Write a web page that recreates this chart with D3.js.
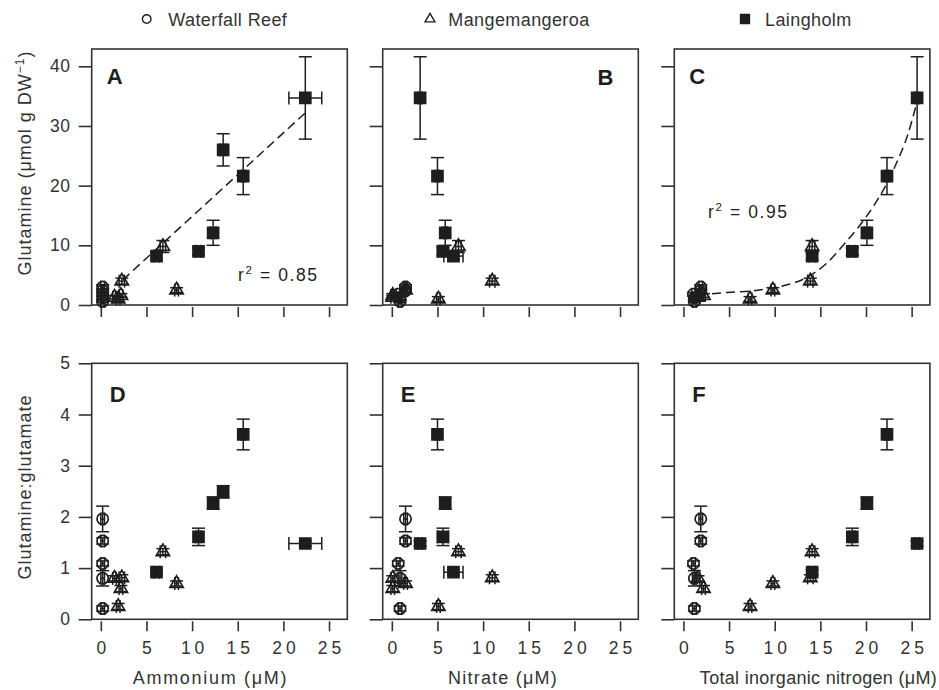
<!DOCTYPE html>
<html>
<head>
<meta charset="utf-8">
<script src="https://cdn.jsdelivr.net/npm/d3@7"></script>
<style>
  body { margin: 0; background: #fff; }
  svg { display: block; font-family: "Liberation Sans", Arial, Helvetica, sans-serif; }
</style>
</head>
<body>
<svg id="chart" width="939" height="690"></svg>
<script>
// ---- Sites ----
const siteNames = ["Waterfall Reef", "Mangemangeroa", "Laingholm"];
const siteShapes = ["circle", "triangle", "square"];

// ---- Waterfall Reef ----
const wfNH4      = [0.2, 0.2, 0.2, 0.2, 0.2];
const wfNH4Err   = [0.2, 0.2, 0.2, 0.2, 0.2];
const wfNO3      = [1.5, 1.5, 0.7, 0.9, 0.9];
const wfNO3Err   = [0.2, 0.2, 0.2, 0.2, 0.2];
const wfTIN      = [1.9, 1.9, 1.1, 1.2, 1.2];
const wfTINErr   = [0.2, 0.2, 0.2, 0.2, 0.2];
const wfGln      = [3.0, 2.4, 1.8, 1.2, 0.6];
const wfGlnErr   = [0.4, 0.3, 0.3, 0.3, 0.2];
const wfRatio    = [1.96, 1.53, 1.09, 0.80, 0.21];
const wfRatioErr = [0.25, 0.06, 0.05, 0.15, 0.05];

// ---- Mangemangeroa ----
const mgNH4      = [6.8, 8.3, 2.3, 1.9, 1.5, 2.2];
const mgNH4Err   = [0.3, 0.2, 0.3, 0.2, 0.2, 0.2];
const mgNO3      = [7.3, 1.5, 11.0, 5.1, 0.1, 0.1];
const mgNO3Err   = [0.3, 0.2, 0.3, 0.2, 0.2, 0.2];
const mgTIN      = [14.1, 9.8, 13.9, 7.3, 1.6, 2.2];
const mgTINErr   = [0.3, 0.2, 0.3, 0.2, 0.2, 0.2];
const mgGln      = [9.8, 2.5, 4.0, 1.0, 1.3, 1.6];
const mgGlnErr   = [1.0, 0.4, 0.5, 0.4, 0.3, 0.3];
const mgRatio    = [1.32, 0.70, 0.81, 0.25, 0.80, 0.60];
const mgRatioErr = [0.06, 0.05, 0.06, 0.06, 0.05, 0.06];

// ---- Laingholm (second sampling has no nitrate value) ----
const lhNH4      = [22.4, 13.4, 15.6, 12.3, 10.7, 6.1];
const lhNH4Err   = [1.8, 0.3, 0.2, 0.3, 0.3, 0.3];
const lhNO3      = [3.1, null, 5.0, 5.85, 5.6, 6.75];
const lhNO3Err   = [0.2, null, 0.2, 0.2, 0.6, 1.05];
const lhTIN      = [25.6, null, 22.3, 20.1, 18.5, 14.1];
const lhTINErr   = [0.2, null, 0.2, 0.3, 0.3, 0.3];
const lhGln      = [34.7, 26.0, 21.6, 12.1, 9.0, 8.2];
const lhGlnErr   = [6.9, 2.7, 3.1, 2.1, 0.6, 0.6];
const lhRatio    = [1.48, 2.49, 3.61, 2.27, 1.61, 0.92];
const lhRatioErr = [0.05, 0.12, 0.30, 0.12, 0.17, 0.05];

// ---- Fitted curves ----
const fitA_x = [2.4, 22.4];
const fitA_y = [4.2, 32.2];
const fitC_x = [1.6, 4.75, 7.7, 10.6, 13.5, 15.7, 17.5, 19.35, 21.0, 22.3, 23.4, 24.5, 25.5];
const fitC_y = [1.7, 2.1, 2.4, 3.1, 4.6, 7.0, 10.0, 13.4, 17.0, 20.4, 24.0, 28.2, 33.5];

// ---- Axes ticks and labels ----
const xTicks = [0, 5, 10, 15, 20, 25];
const glnTicks = [0, 10, 20, 30, 40];
const ratioTicks = [0, 1, 2, 3, 4, 5];
const xTitles = ["Ammonium (\u03bcM)", "Nitrate (\u03bcM)", "Total inorganic nitrogen (\u03bcM)"];
const panelLetters = ["A", "B", "C", "D", "E", "F"];
const r2Labels = ["0.85", "0.95"];

// ---- Assemble records ----
function build(site, nh4, nh4e, no3, no3e, tin, tine, gln, glne, ratio, ratioe) {
  return nh4.map((_, i) => ({
    site, nh4: nh4[i], nh4Err: nh4e[i], no3: no3[i], no3Err: no3e[i],
    tin: tin[i], tinErr: tine[i], gln: gln[i], glnErr: glne[i],
    ratio: ratio[i], ratioErr: ratioe[i]
  }));
}
const records = [
  ...build(0, wfNH4, wfNH4Err, wfNO3, wfNO3Err, wfTIN, wfTINErr, wfGln, wfGlnErr, wfRatio, wfRatioErr),
  ...build(1, mgNH4, mgNH4Err, mgNO3, mgNO3Err, mgTIN, mgTINErr, mgGln, mgGlnErr, mgRatio, mgRatioErr),
  ...build(2, lhNH4, lhNH4Err, lhNO3, lhNO3Err, lhTIN, lhTINErr, lhGln, lhGlnErr, lhRatio, lhRatioErr)
];

// ---- Layout ----
const svg = d3.select("#chart");
const ink = "#1e1e1e";
const frameCol = "#333";
const colLeft = [91.7, 382.7, 674.3];
const panelW = 255.6;
const rowTop = [49, 363.3];
const panelH = 256;
const xVars = ["nh4", "no3", "tin"];
const yVars = ["gln", "ratio"];

const symCircle = d3.symbol(d3.symbolCircle, 100)();
const symTriangle = d3.symbol(d3.symbolTriangle, 76)();
const symSquare = d3.symbol(d3.symbolSquare, 121)();

function markerPath(shape) {
  return shape === "circle" ? symCircle : shape === "triangle" ? symTriangle : symSquare;
}

for (let row = 0; row < 2; row++) {
  for (let col = 0; col < 3; col++) {
    const left = colLeft[col], top = rowTop[row];
    const x = d3.scaleLinear().domain([-1, 27]).range([left, left + panelW]);
    const y = row === 0
      ? d3.scaleLinear().domain([0, 42.9]).range([top + panelH, top])
      : d3.scaleLinear().domain([0, 5]).range([top + panelH, top]);
    const xv = xVars[col], yv = yVars[row];
    const g = svg.append("g");

    // x axis (ticks drawn just below the frame)
    const xAxis = d3.axisBottom(x).tickValues(xTicks).tickSize(10).tickPadding(10)
      .tickFormat(row === 1 ? d3.format("d") : () => "");
    const gx = g.append("g").attr("transform", `translate(0,${top + panelH + 2})`).call(xAxis);
    gx.select(".domain").remove();
    gx.selectAll(".tick line").attr("stroke", frameCol).attr("stroke-width", 1.6);
    gx.selectAll(".tick text").attr("fill", "#333").style("font-size", "17.5px")
      .style("letter-spacing", "4px").attr("dx", "2px")
      .style("font-family", '"Liberation Sans", Arial, sans-serif');

    // y axis
    const yAxis = d3.axisLeft(y).tickValues(row === 0 ? glnTicks : ratioTicks).tickSize(13).tickPadding(8)
      .tickFormat(col === 0 ? d3.format("d") : () => "");
    const gy = g.append("g").attr("transform", `translate(${left},0)`).call(yAxis);
    gy.select(".domain").remove();
    gy.selectAll(".tick line").attr("stroke", frameCol).attr("stroke-width", 1.6);
    gy.selectAll(".tick text").attr("fill", "#333").style("font-size", "17.5px")
      .style("letter-spacing", "0.6px")
      .style("font-family", '"Liberation Sans", Arial, sans-serif');

    // frame
    g.append("rect").attr("x", left).attr("y", top).attr("width", panelW).attr("height", panelH)
      .attr("fill", "none").attr("stroke", frameCol).attr("stroke-width", 1.6);

    // fitted curves
    if (row === 0 && col === 0) {
      g.append("path").datum(fitA_x.map((v, i) => [v, fitA_y[i]]))
        .attr("d", d3.line().x(d => x(d[0])).y(d => y(d[1])))
        .attr("fill", "none").attr("stroke", ink).attr("stroke-width", 1.5).attr("stroke-dasharray", "9,5");
    }
    if (row === 0 && col === 2) {
      g.append("path").datum(fitC_x.map((v, i) => [v, fitC_y[i]]))
        .attr("d", d3.line().curve(d3.curveMonotoneX).x(d => x(d[0])).y(d => y(d[1])))
        .attr("fill", "none").attr("stroke", ink).attr("stroke-width", 1.5).attr("stroke-dasharray", "9,5");
    }

    // points
    const pts = records.filter(d => d[xv] != null);
    const cap = 6.5;
    pts.forEach(d => {
      const px = x(d[xv]), py = y(d[yv]);
      const ye = d[yv + "Err"], xe = d[xv + "Err"];
      const shape = siteShapes[d.site];
      g.append("path").attr("d", markerPath(shape)).attr("transform", `translate(${px},${py})`)
        .attr("fill", shape === "square" ? ink : "none")
        .attr("stroke", ink).attr("stroke-width", 1.7);
      const eb = g.append("g").attr("stroke", ink).attr("stroke-width", 1.5);
      if (ye) {
        const y1 = y(d[yv] - ye), y2 = y(d[yv] + ye);
        eb.append("line").attr("x1", px).attr("x2", px).attr("y1", y1).attr("y2", y2);
        eb.append("line").attr("x1", px - cap).attr("x2", px + cap).attr("y1", y1).attr("y2", y1);
        eb.append("line").attr("x1", px - cap).attr("x2", px + cap).attr("y1", y2).attr("y2", y2);
      }
      if (xe) {
        const x1 = x(d[xv] - xe), x2 = x(d[xv] + xe);
        eb.append("line").attr("x1", x1).attr("x2", x2).attr("y1", py).attr("y2", py);
        eb.append("line").attr("x1", x1).attr("x2", x1).attr("y1", py - cap).attr("y2", py + cap);
        eb.append("line").attr("x1", x2).attr("x2", x2).attr("y1", py - cap).attr("y2", py + cap);
      }
    });

    // panel letter
    const letter = panelLetters[row * 3 + col];
    const lt = g.append("text").text(letter).attr("fill", ink)
      .style("font-size", "22px").style("font-weight", "bold");
    if (row === 0 && col === 1) {
      lt.attr("x", left + panelW - 25).attr("y", top + 36).attr("text-anchor", "end");
    } else {
      lt.attr("x", left + (row === 0 ? 15 : 18)).attr("y", top + (row === 0 ? 35 : 38.5));
    }
  }
}

// r-squared labels
function r2(xp, yp, val) {
  const t = svg.append("text").attr("x", xp).attr("y", yp).attr("fill", ink)
    .style("font-size", "17.5px").style("letter-spacing", "1.6px");
  t.append("tspan").text("r");
  t.append("tspan").text("2").attr("dy", -7).style("font-size", "11.5px");
  t.append("tspan").text(" = " + val).attr("dy", 7);
}
r2(238, 281, r2Labels[0]);
r2(708, 218, r2Labels[1]);

// x axis titles
const xTitleCx = [210.5, 503];
svg.append("text").attr("x", xTitleCx[0]).attr("y", 684).attr("text-anchor", "middle")
  .attr("fill", "#333").style("font-size", "18px").style("letter-spacing", "1.7px").text(xTitles[0]);
svg.append("text").attr("x", xTitleCx[1]).attr("y", 684).attr("text-anchor", "middle")
  .attr("fill", "#333").style("font-size", "18px").style("letter-spacing", "1.2px").text(xTitles[1]);
svg.append("text").attr("x", 937).attr("y", 684).attr("text-anchor", "end")
  .attr("fill", "#333").style("font-size", "18px").style("letter-spacing", "0.3px").text(xTitles[2]);

// y axis titles
const yt1 = svg.append("text").attr("transform", "translate(31,163) rotate(-90)")
  .attr("text-anchor", "middle").attr("fill", "#333").style("font-size", "18px").style("letter-spacing", "1px");
yt1.append("tspan").text("Glutamine (\u03bcmol g DW");
yt1.append("tspan").text("\u22121").attr("dy", -7).style("font-size", "12px");
yt1.append("tspan").text(")").attr("dy", 7);
svg.append("text").attr("transform", "translate(31,487) rotate(-90)")
  .attr("text-anchor", "middle").attr("fill", "#333").style("font-size", "18px").style("letter-spacing", "1px")
  .text("Glutamine:glutamate");

// legend
const legX = [146.7, 430, 745];
const legTextX = [168.3, 448.3, 765];
const legSyms = [d3.symbol(d3.symbolCircle, 58)(), d3.symbol(d3.symbolTriangle, 42)(), d3.symbol(d3.symbolSquare, 80)()];
siteNames.forEach((name, i) => {
  svg.append("path").attr("d", legSyms[i]).attr("transform", `translate(${legX[i]},19)`)
    .attr("fill", i === 2 ? ink : "none").attr("stroke", ink).attr("stroke-width", 1.4);
  svg.append("text").attr("x", legTextX[i]).attr("y", 26).attr("fill", "#333")
    .style("font-size", "18px").style("letter-spacing", "0.4px").text(name);
});
</script>
</body>
</html>
